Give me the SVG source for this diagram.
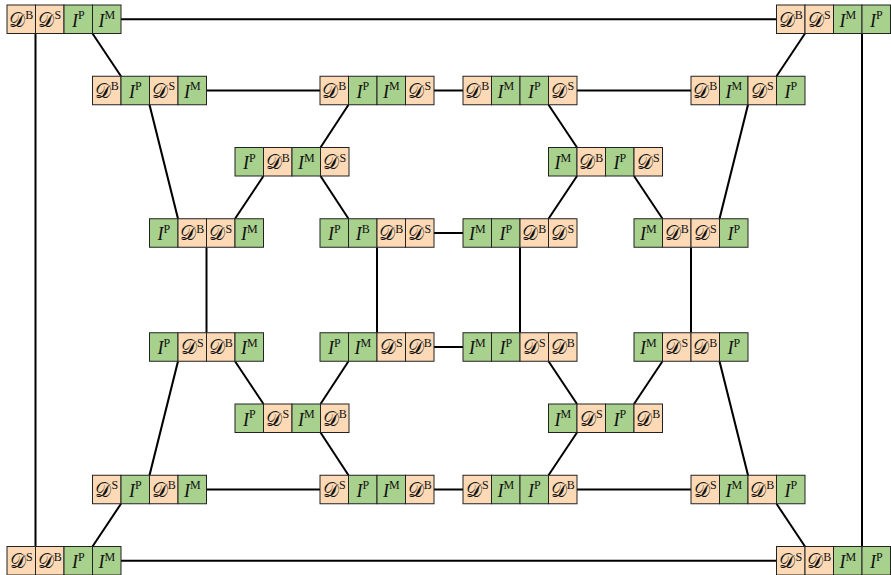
<svg xmlns="http://www.w3.org/2000/svg" width="891" height="575" viewBox="0 0 891 575">
<defs>
<style>
.o{fill:#fdd9b5;stroke:#222;stroke-width:1}
.g{fill:#a9d18e;stroke:#222;stroke-width:1}
.t{font-family:"Liberation Serif","DejaVu Serif",serif;font-size:18px;fill:#111;text-anchor:middle}
.d{font-family:"DejaVu Serif","DejaVu Sans",serif;font-size:20px}
.i{font-style:italic}
.s{font-size:12px;font-family:"Liberation Serif",serif}
.c line{stroke:#000;stroke-width:2;fill:none}
</style>
<g id="DB"><rect class="o" width="28.5" height="28.5"/><text class="t" x="14.25" y="21.5"><tspan class="d">𝒟</tspan><tspan class="s" dy="-7.5">B</tspan></text></g>
<g id="DS"><rect class="o" width="28.5" height="28.5"/><text class="t" x="14.25" y="21.5"><tspan class="d">𝒟</tspan><tspan class="s" dy="-7.5">S</tspan></text></g>
<g id="IP"><rect class="g" width="28.5" height="28.5"/><text class="t" x="14.25" y="21.5"><tspan class="i">I</tspan><tspan class="s" dy="-7.5">P</tspan></text></g>
<g id="IM"><rect class="g" width="28.5" height="28.5"/><text class="t" x="14.25" y="21.5"><tspan class="i">I</tspan><tspan class="s" dy="-7.5">M</tspan></text></g>
<g id="IB"><rect class="g" width="28.5" height="28.5"/><text class="t" x="14.25" y="21.5"><tspan class="i">I</tspan><tspan class="s" dy="-7.5">B</tspan></text></g>
</defs>
<g id="connectors" class="c">
<line x1="121" y1="19.25" x2="776.5" y2="19.25"/>
<line x1="206.5" y1="90.5" x2="320" y2="90.5"/>
<line x1="434" y1="90.5" x2="463" y2="90.5"/>
<line x1="577" y1="90.5" x2="691" y2="90.5"/>
<line x1="434" y1="233" x2="463" y2="233"/>
<line x1="434" y1="347" x2="463" y2="347"/>
<line x1="206.5" y1="489.5" x2="320" y2="489.5"/>
<line x1="434" y1="489.5" x2="463" y2="489.5"/>
<line x1="577" y1="489.5" x2="691" y2="489.5"/>
<line x1="121" y1="560.75" x2="776.5" y2="560.75"/>
<line x1="35.5" y1="33.5" x2="35.5" y2="546.5"/>
<line x1="862" y1="33.5" x2="862" y2="546.5"/>
<line x1="206.5" y1="247.25" x2="206.5" y2="332.75"/>
<line x1="377" y1="247.25" x2="377" y2="332.75"/>
<line x1="520" y1="247.25" x2="520" y2="332.75"/>
<line x1="691" y1="247.25" x2="691" y2="332.75"/>
<line x1="92.5" y1="33.5" x2="121" y2="76.25"/>
<line x1="149.5" y1="104.75" x2="178" y2="218.75"/>
<line x1="348.5" y1="104.75" x2="320.5" y2="147.5"/>
<line x1="263.5" y1="176" x2="235" y2="218.75"/>
<line x1="320.5" y1="176" x2="348.5" y2="218.75"/>
<line x1="548.5" y1="104.75" x2="577" y2="147.5"/>
<line x1="805" y1="33.5" x2="776.5" y2="76.25"/>
<line x1="748" y1="104.75" x2="719.5" y2="218.75"/>
<line x1="577" y1="176" x2="548.5" y2="218.75"/>
<line x1="634" y1="176" x2="662.5" y2="218.75"/>
<line x1="178" y1="361.25" x2="149.5" y2="475.25"/>
<line x1="235" y1="361.25" x2="263.5" y2="404"/>
<line x1="348.5" y1="361.25" x2="320.5" y2="404"/>
<line x1="320.5" y1="432.5" x2="348.5" y2="475.25"/>
<line x1="121" y1="503.75" x2="92.5" y2="546.5"/>
<line x1="548.5" y1="361.25" x2="577" y2="404"/>
<line x1="662.5" y1="361.25" x2="634" y2="404"/>
<line x1="577" y1="432.5" x2="548.5" y2="475.25"/>
<line x1="719.5" y1="361.25" x2="748" y2="475.25"/>
<line x1="776.5" y1="503.75" x2="805" y2="546.5"/>
</g>
<g id="n1" transform="translate(7,5)"><use href="#DB"/><use href="#DS" x="28.5"/><use href="#IP" x="57"/><use href="#IM" x="85.5"/></g>
<g id="n2" transform="translate(776.5,5)"><use href="#DB"/><use href="#DS" x="28.5"/><use href="#IM" x="57"/><use href="#IP" x="85.5"/></g>
<g id="n3" transform="translate(92.5,76.25)"><use href="#DB"/><use href="#IP" x="28.5"/><use href="#DS" x="57"/><use href="#IM" x="85.5"/></g>
<g id="n4" transform="translate(320,76.25)"><use href="#DB"/><use href="#IP" x="28.5"/><use href="#IM" x="57"/><use href="#DS" x="85.5"/></g>
<g id="n5" transform="translate(463,76.25)"><use href="#DB"/><use href="#IM" x="28.5"/><use href="#IP" x="57"/><use href="#DS" x="85.5"/></g>
<g id="n6" transform="translate(691,76.25)"><use href="#DB"/><use href="#IM" x="28.5"/><use href="#DS" x="57"/><use href="#IP" x="85.5"/></g>
<g id="n7" transform="translate(235,147.5)"><use href="#IP"/><use href="#DB" x="28.5"/><use href="#IM" x="57"/><use href="#DS" x="85.5"/></g>
<g id="n8" transform="translate(548.5,147.5)"><use href="#IM"/><use href="#DB" x="28.5"/><use href="#IP" x="57"/><use href="#DS" x="85.5"/></g>
<g id="n9" transform="translate(149.5,218.75)"><use href="#IP"/><use href="#DB" x="28.5"/><use href="#DS" x="57"/><use href="#IM" x="85.5"/></g>
<g id="n10" transform="translate(320,218.75)"><use href="#IP"/><use href="#IB" x="28.5"/><use href="#DB" x="57"/><use href="#DS" x="85.5"/></g>
<g id="n11" transform="translate(463,218.75)"><use href="#IM"/><use href="#IP" x="28.5"/><use href="#DB" x="57"/><use href="#DS" x="85.5"/></g>
<g id="n12" transform="translate(634,218.75)"><use href="#IM"/><use href="#DB" x="28.5"/><use href="#DS" x="57"/><use href="#IP" x="85.5"/></g>
<g id="n13" transform="translate(149.5,332.75)"><use href="#IP"/><use href="#DS" x="28.5"/><use href="#DB" x="57"/><use href="#IM" x="85.5"/></g>
<g id="n14" transform="translate(320,332.75)"><use href="#IP"/><use href="#IM" x="28.5"/><use href="#DS" x="57"/><use href="#DB" x="85.5"/></g>
<g id="n15" transform="translate(463,332.75)"><use href="#IM"/><use href="#IP" x="28.5"/><use href="#DS" x="57"/><use href="#DB" x="85.5"/></g>
<g id="n16" transform="translate(634,332.75)"><use href="#IM"/><use href="#DS" x="28.5"/><use href="#DB" x="57"/><use href="#IP" x="85.5"/></g>
<g id="n17" transform="translate(235,404)"><use href="#IP"/><use href="#DS" x="28.5"/><use href="#IM" x="57"/><use href="#DB" x="85.5"/></g>
<g id="n18" transform="translate(548.5,404)"><use href="#IM"/><use href="#DS" x="28.5"/><use href="#IP" x="57"/><use href="#DB" x="85.5"/></g>
<g id="n19" transform="translate(92.5,475.25)"><use href="#DS"/><use href="#IP" x="28.5"/><use href="#DB" x="57"/><use href="#IM" x="85.5"/></g>
<g id="n20" transform="translate(320,475.25)"><use href="#DS"/><use href="#IP" x="28.5"/><use href="#IM" x="57"/><use href="#DB" x="85.5"/></g>
<g id="n21" transform="translate(463,475.25)"><use href="#DS"/><use href="#IM" x="28.5"/><use href="#IP" x="57"/><use href="#DB" x="85.5"/></g>
<g id="n22" transform="translate(691,475.25)"><use href="#DS"/><use href="#IM" x="28.5"/><use href="#DB" x="57"/><use href="#IP" x="85.5"/></g>
<g id="n23" transform="translate(7,546.5)"><use href="#DS"/><use href="#DB" x="28.5"/><use href="#IP" x="57"/><use href="#IM" x="85.5"/></g>
<g id="n24" transform="translate(776.5,546.5)"><use href="#DS"/><use href="#DB" x="28.5"/><use href="#IM" x="57"/><use href="#IP" x="85.5"/></g>
</svg>
